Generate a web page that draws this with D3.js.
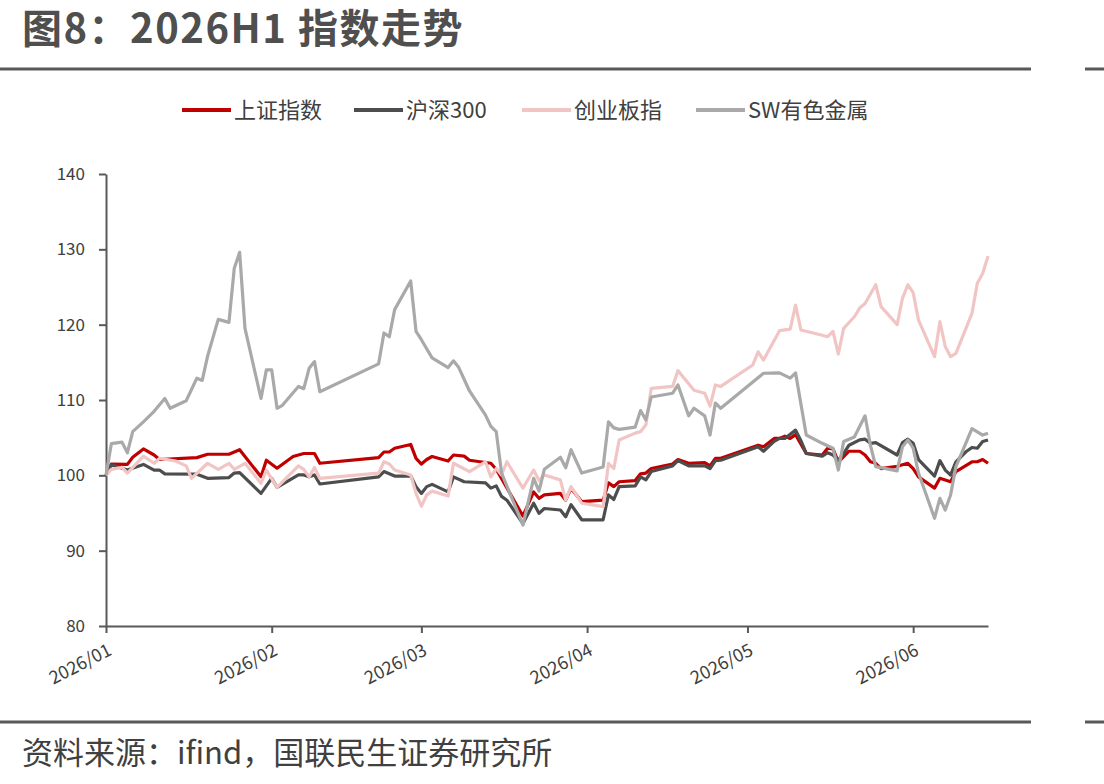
<!DOCTYPE html>
<meta charset="utf-8">
<style>
body { margin: 0; background: #fff; }
text { font-family: "Noto Sans CJK SC", "Noto Sans", sans-serif; }
.tick text { fill: #404040; font-size: 17px; }
.tick line, .domain { stroke: #595959; stroke-width: 2; }
</style>
<svg width="1104" height="784"></svg>
<script src="https://d3js.org/d3.v7.min.js"></script>
<script>

var names = ["上证指数", "沪深300", "创业板指", "SW有色金属"];
var colors = ["#c00000", "#4d4d4d", "#f2c5c5", "#a9a9a9"];
var yTicks = [80, 90, 100, 110, 120, 130, 140];

// [MM-DD, index value], 2026
var shanghai = [
  ["01-01",100],["01-02",101.5],["01-05",101.45],["01-06",102.4],["01-08",103.5],["01-10",102.7],
  ["01-11",102.1],["01-18",102.35],["01-20",102.8],["01-24",102.8],["01-26",103.4],["01-30",99.8],
  ["01-31",102.0],["02-02",100.95],["02-05",102.5],["02-07",102.9],["02-09",102.9],["02-10",101.6],
  ["02-21",102.35],["02-22",103.1],["02-23",103.1],["02-24",103.6],["02-27",104.1],["02-28",102.25],
  ["03-01",101.5],["03-02",102.1],["03-03",102.5],["03-06",101.9],["03-07",102.7],["03-09",102.55],
  ["03-10",102.0],["03-13",101.7],["03-14",101.6],["03-15",100.8],["03-20",94.6],["03-22",97.8],
  ["03-23",96.95],["03-24",97.4],["03-27",97.6],["03-28",96.7],["03-29",98.3],["03-31",96.5],
  ["04-04",96.7],["04-05",99.0],["04-06",98.5],["04-07",99.15],["04-10",99.3],["04-11",100.2],
  ["04-12",100.3],["04-13",100.9],["04-17",101.5],["04-18",102.1],["04-20",101.6],["04-23",101.7],
  ["04-24",101.25],["04-25",102.25],["04-26",102.25],["05-03",104.0],["05-04",103.8],["05-06",104.9],
  ["05-07",104.9],["05-08",105.2],["05-09",104.9],["05-10",105.4],["05-12",102.9],["05-15",102.7],
  ["05-16",103.6],["05-17",103.5],["05-18",101.8],["05-19",102.5],["05-20",103.2],["05-22",103.2],
  ["05-23",102.7],["05-24",101.8],["05-25",101.6],["05-26",100.9],["05-29",101.2],["05-30",101.4],
  ["05-31",101.6],["06-01",100.9],["06-02",99.8],["06-05",98.3],["06-06",99.6],["06-08",99.15],
  ["06-09",100.5],["06-12",101.8],["06-13",101.8],["06-14",102.1],["06-15",101.6]
];

var csi300 = [
  ["01-01",100],["01-02",101.4],["01-05",100.7],["01-08",101.45],["01-10",100.7],["01-11",100.7],
  ["01-12",100.2],["01-18",100.15],["01-20",99.6],["01-24",99.7],["01-25",100.3],["01-26",100.35],
  ["01-30",97.6],["02-01",99.6],["02-02",98.4],["02-06",100.05],["02-07",100.05],["02-08",99.8],
  ["02-09",100.05],["02-10",98.85],["02-21",99.8],["02-22",100.5],["02-24",99.9],["02-27",99.9],
  ["02-28",98.5],["03-01",97.6],["03-02",98.5],["03-03",98.8],["03-06",97.8],["03-07",99.8],
  ["03-09",99.15],["03-13",99.0],["03-14",98.3],["03-15",98.6],["03-16",97.2],["03-17",96.7],
  ["03-20",93.6],["03-22",96.3],["03-23",94.95],["03-24",95.6],["03-27",95.4],["03-28",94.5],
  ["03-29",96.1],["03-31",94.1],["04-04",94.1],["04-05",97.4],["04-06",96.8],["04-07",98.5],
  ["04-10",98.6],["04-11",99.8],["04-12",99.4],["04-13",100.5],["04-17",101.25],["04-18",101.95],
  ["04-20",101.25],["04-23",101.25],["04-24",100.9],["04-25",101.95],["04-26",102.0],["05-03",103.8],
  ["05-04",103.2],["05-06",104.5],["05-07",104.9],["05-08",104.9],["05-10",106.0],["05-11",104.6],
  ["05-12",102.9],["05-15",102.55],["05-16",103.0],["05-17",102.7],["05-18",102.0],["05-19",102.9],
  ["05-20",104.0],["05-22",104.7],["05-23",104.8],["05-24",104.25],["05-25",104.35],["05-29",102.7],
  ["05-30",104.35],["05-31",104.8],["06-01",104.25],["06-02",102.1],["06-05",99.9],["06-06",101.95],
  ["06-07",100.7],["06-08",100.05],["06-09",101.8],["06-11",103.2],["06-12",103.7],["06-13",103.6],
  ["06-14",104.5],["06-15",104.7]
];

var chinext = [
  ["01-01",100],["01-02",100.8],["01-04",101.05],["01-05",100.3],["01-08",102.55],["01-10",101.6],
  ["01-11",102.25],["01-14",101.9],["01-16",101.25],["01-17",99.6],["01-20",101.6],["01-22",100.8],
  ["01-24",101.6],["01-25",100.8],["01-27",101.6],["01-30",98.95],["01-31",100.7],["02-02",98.4],
  ["02-06",101.25],["02-07",100.8],["02-08",99.8],["02-09",101.05],["02-10",99.6],["02-21",100.3],
  ["02-22",101.8],["02-23",101.5],["02-24",100.7],["02-27",100.05],["02-28",97.6],["03-01",95.9],
  ["03-02",97.4],["03-03",97.9],["03-06",97.25],["03-07",101.6],["03-10",100.5],["03-13",101.8],
  ["03-14",99.8],["03-15",100.9],["03-16",100.05],["03-17",101.8],["03-20",98.3],["03-22",100.7],
  ["03-23",99.3],["03-24",100.05],["03-27",99.4],["03-28",96.7],["03-29",98.5],["03-31",96.3],
  ["04-04",95.85],["04-05",101.6],["04-06",100.9],["04-07",104.7],["04-10",105.6],["04-11",105.8],
  ["04-12",106.7],["04-13",111.55],["04-17",111.8],["04-18",113.9],["04-21",111.3],["04-23",110.9],
  ["04-24",109.2],["04-25",112.0],["04-26",111.8],["05-02",114.65],["05-03",116.4],["05-04",115.3],
  ["05-07",119.2],["05-09",119.4],["05-10",122.6],["05-11",119.3],["05-15",118.6],["05-16",118.4],
  ["05-17",119.1],["05-18",116.1],["05-19",119.5],["05-21",121.05],["05-22",122.2],["05-23",122.8],
  ["05-25",125.3],["05-26",122.4],["05-29",120.0],["05-30",123.5],["05-31",125.3],["06-01",124.25],
  ["06-02",120.6],["06-05",115.75],["06-06",120.4],["06-07",117.1],["06-08",115.75],["06-09",116.2],
  ["06-12",121.5],["06-13",125.5],["06-14",126.8],["06-15",129.1]
];

var metals = [
  ["01-01",100],["01-02",104.2],["01-04",104.4],["01-05",103.0],["01-06",105.8],["01-08",107.1],
  ["01-10",108.5],["01-12",110.2],["01-13",108.9],["01-16",109.9],["01-18",112.9],["01-19",112.6],
  ["01-20",115.8],["01-22",120.7],["01-24",120.3],["01-25",127.5],["01-26",129.6],["01-27",119.5],
  ["01-30",110.2],["01-31",114.0],["02-01",114.0],["02-02",108.9],["02-03",109.3],["02-06",111.8],
  ["02-07",111.5],["02-08",114.2],["02-09",115.1],["02-10",111.1],["02-21",114.8],["02-22",118.9],
  ["02-23",118.4],["02-24",122.0],["02-27",125.8],["02-28",119.1],["03-01",118.0],["03-03",115.6],
  ["03-06",114.3],["03-07",115.2],["03-08",114.3],["03-10",111.2],["03-13",108.0],["03-14",106.5],
  ["03-15",105.8],["03-16",100.3],["03-20",93.4],["03-22",99.6],["03-23",97.9],["03-24",100.8],
  ["03-27",102.4],["03-28",101.0],["03-29",103.4],["03-31",100.3],["04-04",101.1],["04-05",107.1],
  ["04-06",106.3],["04-07",106.1],["04-10",106.4],["04-11",108.6],["04-12",107.35],["04-13",110.4],
  ["04-17",110.9],["04-18",112.0],["04-20",107.9],["04-21",108.9],["04-23",107.9],["04-24",105.35],
  ["04-25",109.6],["04-26",108.9],["05-04",113.55],["05-07",113.6],["05-09",112.9],["05-10",113.6],
  ["05-12",105.35],["05-15",104.25],["05-17",103.6],["05-18",100.7],["05-19",104.5],["05-21",105.1],
  ["05-23",107.9],["05-24",104.0],["05-25",101.15],["05-29",100.6],["05-30",103.8],["05-31",104.7],
  ["06-01",103.6],["06-02",100.3],["06-05",94.3],["06-06",96.95],["06-07",95.4],["06-08",97.4],
  ["06-09",101.15],["06-12",106.2],["06-14",105.35],["06-15",105.6]
];

var series = [shanghai, csi300, chinext, metals];

var parse = d3.timeParse("%Y-%m-%d");
var svg = d3.select("svg");

var x = d3.scaleTime()
    .domain([parse("2026-01-01"), parse("2026-06-15")])
    .range([106, 988]);
var y = d3.scaleLinear().domain([80, 140]).range([626, 174]);

// title and rules
svg.append("text").attr("x", 22).attr("y", 43)
    .style("font-size", "40px").style("font-weight", "bold").style("letter-spacing", "1.5px")
    .attr("fill", "#4f4f4f")
    .text("图8：2026H1 指数走势");
[69, 722].forEach(function(yy) {
  svg.append("line").attr("x1", 0).attr("x2", 1031).attr("y1", yy).attr("y2", yy)
      .attr("stroke", "#595959").attr("stroke-width", 3);
  svg.append("line").attr("x1", 1085).attr("x2", 1104).attr("y1", yy).attr("y2", yy)
      .attr("stroke", "#595959").attr("stroke-width", 3);
});
svg.append("text").attr("x", 22).attr("y", 764)
    .style("font-size", "31px").attr("fill", "#404040")
    .text("资料来源：ifind，国联民生证券研究所");

// legend
var legendX = [182, 354, 522, 696];
var legend = svg.selectAll(".legend").data(names).enter().append("g")
    .attr("transform", function(d, i) { return "translate(" + legendX[i] + ",110)"; });
legend.append("line").attr("x1", 0).attr("x2", 49)
    .attr("stroke", function(d, i) { return colors[i]; }).attr("stroke-width", 4);
legend.append("text").attr("x", 52).attr("dy", "0.36em")
    .style("font-size", "22px").attr("fill", "#404040")
    .text(function(d) { return d; });

// axes
var gx = svg.append("g").attr("transform", "translate(0,626)")
    .call(d3.axisBottom(x).ticks(d3.timeMonth.every(1)).tickFormat(d3.timeFormat("%Y/%m"))
      .tickSize(7).tickSizeOuter(0));
gx.selectAll(".tick text")
    .style("font-size", "18px")
    .attr("text-anchor", "end")
    .attr("transform", "translate(-4,8) rotate(-27)");

svg.append("g").attr("transform", "translate(106,0)")
    .call(d3.axisLeft(y).tickValues(yTicks).tickSize(7).tickSizeOuter(0).tickPadding(14));

// lines
var line = d3.line()
    .x(function(d) { return x(parse("2026-" + d[0])); })
    .y(function(d) { return y(d[1]); });

svg.append("g").selectAll("path").data(series).enter().append("path")
    .attr("d", line)
    .attr("fill", "none")
    .attr("stroke", function(d, i) { return colors[i]; })
    .attr("stroke-width", 3.2)
    .attr("stroke-linejoin", "round");

</script>
